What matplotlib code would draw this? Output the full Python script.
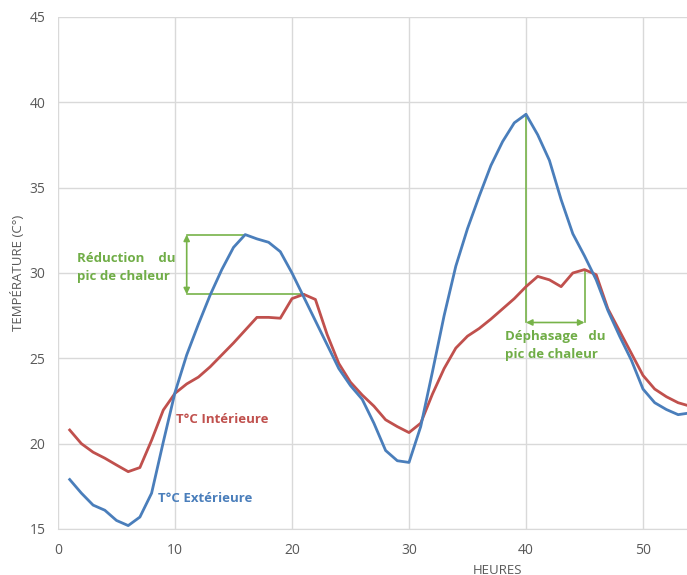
import matplotlib
matplotlib.use("Agg")
import matplotlib.pyplot as plt

hours = list(range(1, 55))
t_ext = [17.9, 17.1, 16.4, 16.1, 15.5, 15.2, 15.7, 17.1, 20.1, 23.0,
         25.2, 27.0, 28.7, 30.2, 31.5, 32.25, 32.0, 31.8, 31.25, 30.0,
         28.6, 27.2, 25.8, 24.4, 23.4, 22.6, 21.2, 19.6, 19.0, 18.9,
         21.0, 24.2, 27.5, 30.4, 32.6, 34.5, 36.3, 37.7, 38.8, 39.3,
         38.1, 36.6, 34.3, 32.3, 31.0, 29.6, 27.8, 26.3, 24.9, 23.2,
         22.4, 22.0, 21.7, 21.8]
t_int = [20.8, 20.0, 19.5, 19.15, 18.75, 18.36, 18.6, 20.2, 21.97, 22.95,
         23.5, 23.9, 24.5, 25.2, 25.9, 26.65, 27.4, 27.4, 27.35, 28.5,
         28.75, 28.45, 26.4, 24.7, 23.6, 22.85, 22.2, 21.4, 21.0, 20.65,
         21.2, 22.9, 24.4, 25.6, 26.3, 26.75, 27.3, 27.9, 28.5, 29.2,
         29.8, 29.6, 29.2, 30.0, 30.2, 29.9, 27.9, 26.6, 25.3, 24.0,
         23.2, 22.75, 22.4, 22.2]
x_ticks = [0, 10, 20, 30, 40, 50]
y_ticks = [15, 20, 25, 30, 35, 40, 45]

BLUE = "#4A7EBB"
RED = "#C0504D"
GREEN = "#77B349"
TXT_GREEN = "#70AD47"
GRID = "#D9D9D9"
TICK = "#595959"

plt.rcParams['font.family'] = ['Open Sans', 'DejaVu Sans']

fig = plt.figure(figsize=(6.87, 5.75), dpi=100)
ax = fig.add_axes([58/687, 1-529/575, 1-58/687, (529-17)/575])
ax.set_xlim(0, 53.76)
ax.set_ylim(15, 45)
ax.set_xticks(x_ticks)
ax.set_yticks(y_ticks)
ax.grid(True, color=GRID, linewidth=1.0)
ax.set_axisbelow(True)
for s in ax.spines.values():
    s.set_visible(False)
ax.spines['bottom'].set_visible(True)
ax.spines['bottom'].set_color(GRID)
ax.tick_params(length=0, labelsize=10, colors=TICK)
ax.tick_params(axis='y', pad=9)
ax.tick_params(axis='x', pad=10)

ax.plot(hours, t_int, color=RED, linewidth=2.0, zorder=3, clip_on=True)
ax.plot(hours, t_ext, color=BLUE, linewidth=2.0, zorder=4, clip_on=True)

# Reduction annotation
peak_ext1 = max(t_ext[:25]); peak_int1 = max(t_int[:25])
ax.plot([11, 16], [peak_ext1, peak_ext1], color=GREEN, lw=1.2, zorder=2)
ax.plot([11, 21], [peak_int1, peak_int1], color=GREEN, lw=1.2, zorder=2)
ax.annotate("", xy=(11, peak_ext1), xytext=(11, peak_int1),
            arrowprops=dict(arrowstyle="<|-|>", color=GREEN, lw=1.2,
                            mutation_scale=9, shrinkA=0, shrinkB=0))
ax.text(1.6, 30.35, "Réduction    du\npic de chaleur", color=TXT_GREEN,
        fontsize=9.5, fontweight='bold', ha='left', va='center', linespacing=1.5)

# Dephasage annotation
peak_ext2 = max(t_ext[25:]); peak_int2 = max(t_int[25:])
ybar = 27.1
ax.plot([40, 40], [peak_ext2, ybar], color=GREEN, lw=1.2, zorder=2)
ax.plot([45, 45], [peak_int2, ybar], color=GREEN, lw=1.2, zorder=2)
ax.annotate("", xy=(40, ybar), xytext=(45, ybar),
            arrowprops=dict(arrowstyle="<|-|>", color=GREEN, lw=1.2,
                            mutation_scale=9, shrinkA=0, shrinkB=0))
ax.text(38.2, 25.75, "Déphasage   du\npic de chaleur", color=TXT_GREEN,
        fontsize=9.5, fontweight='bold', ha='left', va='center', linespacing=1.5)

ax.text(10.1, 21.4, "T°C Intérieure", color=RED, fontsize=9.5,
        fontweight='bold', ha='left', va='center')
ax.text(8.55, 16.8, "T°C Extérieure", color=BLUE, fontsize=9.5,
        fontweight='bold', ha='left', va='center')

ax.set_ylabel("TEMPÉRATURE (C°)", color=TICK, fontsize=9.5, labelpad=3)
fig.text(497/687, 1-570/575, "HEURES", color=TICK, fontsize=9.5,
         ha='center', va='center')

fig.savefig("out.png", dpi=100)
